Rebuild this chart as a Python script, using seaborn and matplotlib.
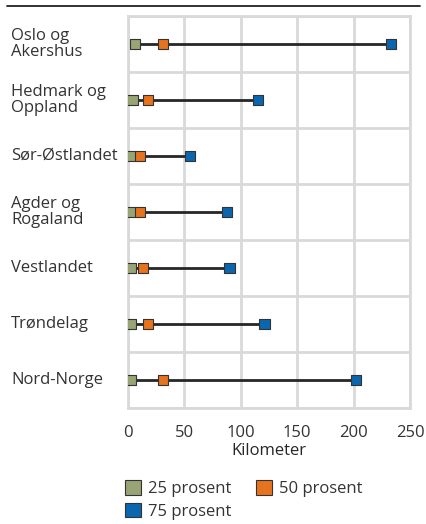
import numpy as np
import pandas as pd
import matplotlib
matplotlib.use("Agg")
import matplotlib.pyplot as plt
import matplotlib.transforms as mtransforms
from matplotlib.patches import Patch
import seaborn as sns

# data
regions = ['Oslo og\nAkershus', 'Hedmark og\nOppland', 'Sør-Østlandet',
           'Agder og\nRogaland', 'Vestlandet', 'Trøndelag', 'Nord-Norge']
p25 = [6, 4, 3, 3, 3, 3, 3]
p50 = [31, 18, 11, 11, 13, 18, 31]
p75 = [233, 115, 55, 88, 90, 121, 202]
series = ['25 prosent', '50 prosent', '75 prosent']
colors = ['#99A475', '#E8731E', '#0A66AE']
xticks = [0, 50, 100, 150, 200, 250]

df = pd.DataFrame({
    'region': regions * 3,
    'km': p25 + p50 + p75,
    'serie': [s for s in series for _ in regions],
})

sns.set_style('white')
plt.rcParams['font.family'] = ['Open Sans', 'DejaVu Sans']
plt.rcParams['text.color'] = '#333333'
plt.rcParams['xtick.color'] = '#333333'
FS = 12

fig = plt.figure(figsize=(4.27, 5.24), dpi=100)
ax = fig.add_axes([128 / 427, 1 - 408 / 524, 282 / 427, 392 / 524])

# connecting lines
ax.hlines(y=np.arange(len(regions)), xmin=p25, xmax=p75, color='#262626',
          lw=2, zorder=2)

sns.stripplot(data=df, x='km', y='region', hue='serie', palette=colors,
              order=regions, hue_order=series, jitter=False, dodge=False,
              marker='s', size=7.3, linewidth=0.8, edgecolor='#333333',
              ax=ax, legend=False, zorder=3)

ax.set_xlim(0, 250)
ax.set_ylim(len(regions) - 0.5, -0.5)
ax.set_xticks(xticks)
ax.set_xticklabels([str(t) for t in xticks], fontsize=FS)
ax.set_yticks(np.arange(-0.5, len(regions), 1), minor=False)
ax.set_yticklabels([])
ax.tick_params(length=0, pad=12.5)
ax.grid(True, color='#D9D9D9', lw=2)
ax.set_axisbelow(True)
for s in ax.spines.values():
    s.set_color('#D9D9D9')
    s.set_linewidth(2)
ax.set_xlabel('Kilometer', fontsize=FS, labelpad=1)
ax.set_ylabel('')

# region labels, left aligned
trans = mtransforms.blended_transform_factory(fig.transFigure, ax.transData)
for i, r in enumerate(regions):
    ax.text(11 / 427, i, r, transform=trans, ha='left', va='center',
            fontsize=FS, linespacing=0.92, color='#333333')

# top rule
fig.add_artist(plt.Line2D([7 / 427, 420 / 427], [1 - 6 / 524, 1 - 6 / 524],
                          color='#222222', lw=1.3, transform=fig.transFigure))

# legend: 25 and 50 on first row, 75 below
handles = [Patch(facecolor=c, edgecolor='#333333', lw=0.8, label=s)
           for c, s in zip(colors, series)]
handles = [handles[0], handles[2], handles[1]]
fig.legend(handles=handles, ncol=2, loc='upper left',
           bbox_to_anchor=(122 / 427, 1 - 477 / 524), frameon=False,
           fontsize=FS, handlelength=0.95, handleheight=0.95,
           handletextpad=0.4, columnspacing=1.5, labelspacing=0.35,
           borderaxespad=0, borderpad=0.2)

fig.savefig('out.png', dpi=100)
